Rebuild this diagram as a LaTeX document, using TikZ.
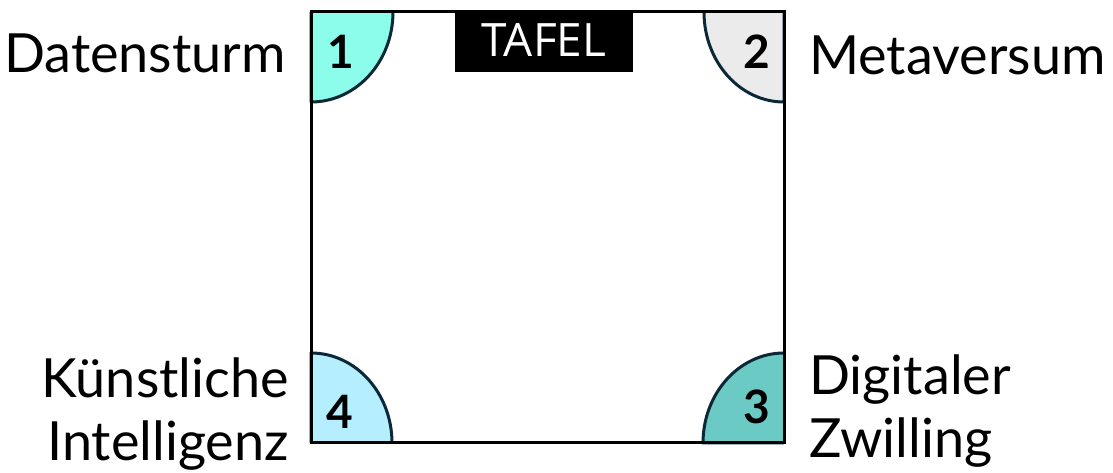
\documentclass[tikz,border=0pt]{standalone}
\usepackage{fontspec}
\setmainfont{Lato}
\newfontfamily\tafelfont{Open Sans}
\definecolor{edgeblue}{HTML}{0B2838}
\definecolor{qone}{HTML}{8CFCEB}
\definecolor{qtwo}{HTML}{EBEBEB}
\definecolor{qthree}{HTML}{6CCAC4}
\definecolor{qfour}{HTML}{B4EEFF}
\tikzset{
  quarter/.style={draw=edgeblue, line width=3pt, line join=round},
  num/.style={font=\fontsize{46}{46}\selectfont\bfseries, text=black, inner sep=0pt},
  lbl/.style={font=\fontsize{54}{63}\selectfont, text=black, inner sep=0pt},
}
\begin{document}
\begin{tikzpicture}[x=1pt,y=1pt]
\useasboundingbox[fill=white] (0,0) rectangle (1113,473);
% quarters
\fill[qone] (311,461) -- (393,461) arc[start angle=0,end angle=-90,x radius=82pt,y radius=90pt] -- cycle;
\draw[quarter] (393,461) arc[start angle=0,end angle=-90,x radius=82pt,y radius=90pt] -- (311,461);
\fill[qtwo] (784,461) -- (704,461) arc[start angle=180,end angle=270,x radius=80pt,y radius=90pt] -- cycle;
\draw[quarter] (704,461) arc[start angle=180,end angle=270,x radius=80pt,y radius=90pt] -- (784,461);
\fill[qthree] (784,30) -- (784,120) arc[start angle=90,end angle=180,x radius=81pt,y radius=90pt] -- cycle;
\draw[quarter] (784,120) arc[start angle=90,end angle=180,x radius=81pt,y radius=90pt] -- (784,30);
\fill[qfour] (311,30) -- (392,30) arc[start angle=0,end angle=90,x radius=81pt,y radius=90pt] -- cycle;
\draw[quarter] (392,30) arc[start angle=0,end angle=90,x radius=81pt,y radius=90pt] -- (311,30);
% board
\draw[black, line width=3pt] (311,30) rectangle (784,461);
\node[fill=black, minimum width=178pt, minimum height=60pt, inner sep=0pt, text=white,
  font=\tafelfont\fontsize{46}{46}\selectfont] (tafel) at (544,431) {};
\node[text=white, inner sep=0pt, font=\tafelfont\fontsize{46}{46}\selectfont] (tafeltext) at (544,433) {TAFEL};
% numbers
\node[num] (n1) at (341,421) {1};
\node[num] (n2) at (757,421) {2};
\node[num] (n3) at (757,66) {3};
\node[num] (n4) at (340,61) {4};
% labels
\node[lbl, anchor=east] (l1) at (286,420) {Datensturm};
\node[lbl, anchor=west] (l2) at (809,418) {Metaversum};
\node[lbl, anchor=east, align=right] (l4) at (289,59) {Künstliche\\Intelligenz};
\node[lbl, anchor=west, align=left] (l3) at (809,62) {Digitaler\\Zwilling};
\end{tikzpicture}
\end{document}
